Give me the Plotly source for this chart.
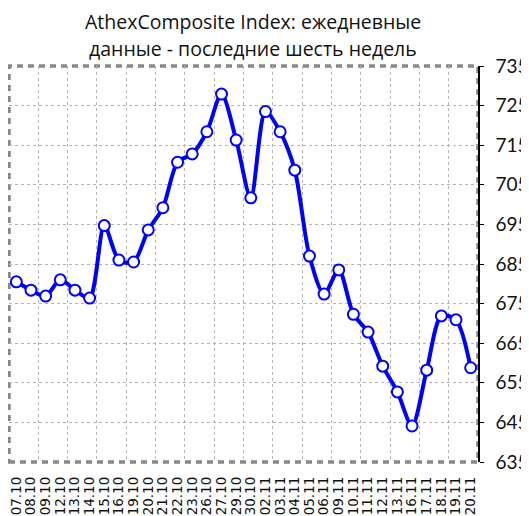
import plotly.graph_objects as go

dates = ["07.10", "08.10", "09.10", "12.10", "13.10", "14.10", "15.10", "16.10",
         "19.10", "20.10", "21.10", "22.10", "23.10", "26.10", "27.10", "29.10",
         "30.10", "02.11", "03.11", "04.11", "05.11", "06.11", "09.11", "10.11",
         "11.11", "12.11", "13.11", "16.11", "17.11", "18.11", "19.11", "20.11"]
values = [680.5, 678.4, 676.9, 681.0, 678.4, 676.4, 694.7, 686.0,
          685.5, 693.6, 699.2, 710.7, 712.8, 718.4, 727.9, 716.3,
          701.7, 723.5, 718.4, 708.7, 687.0, 677.4, 683.5, 672.3,
          667.8, 659.2, 652.7, 644.1, 658.2, 671.9, 670.9, 658.8]
y_ticks = [635, 645, 655, 665, 675, 685, 695, 705, 715, 725, 735]
title_lines = ["AthexComposite Index: ежедневные", "данные - последние шесть недель"]

idx = list(range(len(dates)))
grid_x = [i + 0.5 for i in range(1, len(dates) - 1, 2)]

fig = go.Figure()
# invisible trace to activate the grid axis
fig.add_trace(go.Scatter(x=[idx[0]], y=[values[0]], xaxis="x2", mode="markers",
                         marker=dict(opacity=0), hoverinfo="skip", showlegend=False))
fig.add_trace(go.Scatter(
    x=idx, y=values, mode="lines+markers",
    line=dict(color="#0000FF", width=4, shape="spline", smoothing=0.8),
    marker=dict(size=11, color="white", line=dict(color="#0000FF", width=2)),
    showlegend=False,
))

GRID = "#b4b4b4"
fig.update_layout(
    width=521, height=508,
    margin=dict(l=1, r=51, t=58, b=54, autoexpand=False),
    paper_bgcolor="white", plot_bgcolor="white",
    xaxis=dict(
        range=[-0.5, len(dates) - 0.5], tickmode="array", tickvals=idx, ticktext=dates,
        tickangle=-90, showgrid=False, zeroline=False, showline=False,
        ticks="", ticklabelstandoff=11, automargin=False, ticklabeloverflow="allow",
        tickfont=dict(family="DejaVu Sans", size=13.5, color="#111"),
    ),
    xaxis2=dict(
        overlaying="x", range=[-0.5, len(dates) - 0.5],
        tickmode="array", tickvals=grid_x, showticklabels=False, ticks="",
        showgrid=True, gridcolor=GRID, griddash="3px,3px", gridwidth=1,
        zeroline=False, showline=False, automargin=False,
    ),
    yaxis=dict(
        range=[635, 735], tickmode="array", tickvals=y_ticks, side="right",
        showgrid=True, gridcolor=GRID, griddash="3px,3px", gridwidth=1,
        zeroline=False, showline=True, linecolor="black", linewidth=1.5,
        ticks="outside", ticklen=4, tickcolor="black", automargin=False,
        ticklabelstandoff=8, ticklabeloverflow="allow",
        tickfont=dict(family="Lato", size=19, color="#111"),
    ),
    shapes=[dict(type="rect", xref="paper", yref="paper", x0=0, x1=1, y0=0, y1=1,
                 line=dict(color="#888888", width=3.5, dash="6px,5px"), layer="below")],
    annotations=[
        dict(text=title_lines[0], xref="paper", yref="paper", x=0.520, y=1.112,
             showarrow=False, xanchor="center", yanchor="middle",
             font=dict(family="Open Sans", size=19.5, color="#111")),
        dict(text=title_lines[1], xref="paper", yref="paper", x=0.520, y=1.043,
             showarrow=False, xanchor="center", yanchor="middle",
             font=dict(family="Open Sans", size=19.5, color="#111")),
    ],
)

fig.write_html("out.html")
